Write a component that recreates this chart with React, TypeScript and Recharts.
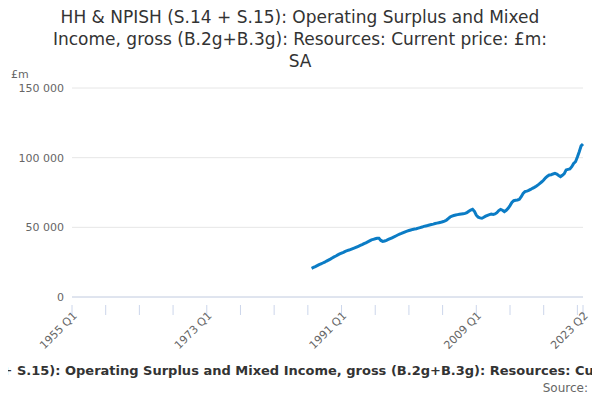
import { LineChart, Line, XAxis, YAxis, CartesianGrid } from 'recharts';

// quarterly values, 1987 Q1 .. 2023 Q2 (£m)
const values = [
  20600, 21200, 21800, 22500, 23200, 23800, 24400, 25000, 25800, 26500, 27200, 28000,
  28800, 29400, 30200, 30900, 31500, 32100, 32800, 33300, 33700, 34200, 34700, 35200,
  35800, 36400, 37000, 37600, 38300, 38900, 39600, 40300, 41000, 41400, 41800, 42100,
  42100, 40600, 39900, 40200, 40700, 41300, 41900, 42500, 43100, 43800, 44500, 45100,
  45600, 46200, 46800, 47300, 47700, 48100, 48500, 48800, 49000, 49400, 49800, 50200,
  50700, 51000, 51300, 51700, 52000, 52300, 52700, 53000, 53300, 53600, 54000, 54400,
  55100, 56300, 57400, 58100, 58500, 58800, 59100, 59400, 59600, 59800, 60000, 60600,
  61500, 62400, 62900, 61500, 58700, 57300, 56800, 56500, 57200, 58000, 58600, 59100,
  59500, 59300, 59600, 60500, 62000, 62900, 62300, 61300, 62200, 63700, 65600, 67800,
  69100, 69400, 69600, 70100, 72000, 74300, 75600, 76000, 76500, 77200, 78000, 78700,
  79500, 80500, 81600, 82700, 84000, 85500, 86700, 87600, 87800, 88300, 88700, 88200,
  87200, 86400, 87300, 88500, 91200, 91600, 91900, 93500, 95800, 97100, 100500, 104300,
  108500, 109800,
];
const firstYear = 1955;
const dataStartYear = 1987;
const yTicks = [0, 50000, 100000, 150000];

const quarters: string[] = [];
for (let y = firstYear; y <= 2023; y++) {
  for (let q = 1; q <= 4; q++) {
    if (y === 2023 && q > 2) break;
    quarters.push(`${y} Q${q}`);
  }
}
const offset = (dataStartYear - firstYear) * 4;
const data = quarters.map((q, i) => ({
  q,
  v: i >= offset ? values[i - offset] : null,
}));
const lastIdx = quarters.length - 1;
const xTicks = quarters.filter((_, i) => i % 18 === 0 || i === lastIdx);
const labelled = new Set(quarters.filter((_, i) => i % 72 === 0 || i === lastIdx));

const fmt = (v: number) => v.toLocaleString('en-US').replace(/,/g, ' ');

const XTick = (props: any) => {
  const { x, y, payload } = props;
  return (
    <g transform={`translate(${x},${y})`}>
      <line x1={0} y1={0} x2={0} y2={10} stroke="#ccd6eb" />
      {labelled.has(payload.value) && (
        <text x={0} y={0} dy={12} dx={-4} textAnchor="end" fill="#666" fontSize={11}
          transform="rotate(-45)">
          {payload.value}
        </text>
      )}
    </g>
  );
};

const title = 'HH & NPISH (S.14 + S.15): Operating Surplus and Mixed Income, gross (B.2g+B.3g): Resources: Current price: £m: SA';

export default function App() {
  return (
    <div style={{ position: 'relative', width: 600, height: 400, margin: -8, overflow: 'hidden', fontFamily: 'DejaVu Sans, sans-serif' }}>
      <div style={{ position: 'absolute', top: 6, left: 40, width: 520, textAlign: 'center', fontSize: 17, lineHeight: '22px', color: '#333' }}>
        {title}
      </div>
      <div style={{ position: 'absolute', top: 68, left: 11, fontSize: 11, color: '#666' }}>£m</div>
      <LineChart width={600} height={400} data={data} margin={{ top: 88, right: 17, bottom: 0, left: 0 }}>
        <CartesianGrid vertical={false} stroke="#e6e6e6" />
        <XAxis dataKey="q" ticks={xTicks} interval={0} tick={<XTick />} tickLine={false}
          axisLine={{ stroke: '#ccd6eb' }} height={103} />
        <YAxis width={72} domain={[0, 150000]} ticks={yTicks} tickFormatter={fmt}
          axisLine={false} tickLine={false} tick={{ fill: '#666', fontSize: 11 }} />
        <Line dataKey="v" stroke="#0b7cc5" strokeWidth={3} dot={false} isAnimationActive={false} connectNulls={false} />
      </LineChart>
      <div style={{ position: 'absolute', top: 363, left: -300, width: 1200, textAlign: 'center', fontSize: 13, fontWeight: 'bold', color: '#333', whiteSpace: 'nowrap' }}>
        {title}
      </div>
      <div style={{ position: 'absolute', top: 381, right: 12, fontSize: 12, color: '#666' }}>Source:</div>
    </div>
  );
}
